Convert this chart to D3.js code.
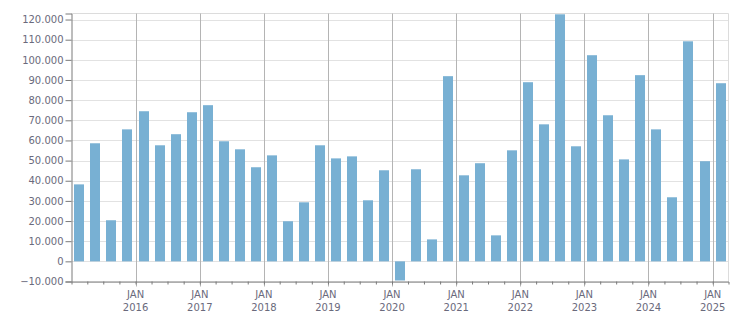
<!DOCTYPE html>
<html>
<head>
<meta charset="utf-8">
<script src="https://cdn.jsdelivr.net/npm/d3@7/dist/d3.min.js"></script>
<style>
  body { margin: 0; background: #fff; }
  text { font-family: "DejaVu Sans", Verdana, sans-serif; }
</style>
</head>
<body>
<div id="chart"></div>
<script>
// quarterly values, Q1 2015 .. Q1 2025
var quarters = [
  "2015-01", "2015-04", "2015-07", "2015-10",
  "2016-01", "2016-04", "2016-07", "2016-10",
  "2017-01", "2017-04", "2017-07", "2017-10",
  "2018-01", "2018-04", "2018-07", "2018-10",
  "2019-01", "2019-04", "2019-07", "2019-10",
  "2020-01", "2020-04", "2020-07", "2020-10",
  "2021-01", "2021-04", "2021-07", "2021-10",
  "2022-01", "2022-04", "2022-07", "2022-10",
  "2023-01", "2023-04", "2023-07", "2023-10",
  "2024-01", "2024-04", "2024-07", "2024-10",
  "2025-01"
];
var values = [
  38200, 58600, 20400, 65500,
  74500, 57600, 63100, 74000,
  77500, 59600, 55600, 46700,
  52600, 19900, 29300, 57600,
  51100, 52100, 30300, 45200,
  -9500, 45700, 10900, 91900,
  42700, 48700, 12900, 55100,
  88900, 68000, 122600, 57100,
  102300, 72500, 50600, 92400,
  65500, 31800, 109200, 49700,
  88400
];
var yTicks = [-10000, 0, 10000, 20000, 30000, 40000, 50000, 60000,
  70000, 80000, 90000, 100000, 110000, 120000];
var yearTicks = [2016, 2017, 2018, 2019, 2020, 2021, 2022, 2023, 2024, 2025];

var width = 751, height = 313;
var plotL = 71.5, plotR = 728.5, plotT = 13.5, plotB = 281.5;

var parse = d3.timeParse("%Y-%m");
var data = quarters.map(function(q, i) {
  var start = parse(q);
  return { start: start, end: d3.timeMonth.offset(start, 3), value: values[i] };
});

var x = d3.scaleTime()
  .domain([data[0].start, data[data.length - 1].end])
  .range([plotL, plotR]);
var y = d3.scaleLinear()
  .domain([-10000, 123000])
  .range([plotB, plotT]);

var locale = d3.formatLocale({ decimal: ",", thousands: ".", grouping: [3], currency: ["", ""] });
var fmt = locale.format(",.0f");

var svg = d3.select("#chart").append("svg")
  .attr("width", width)
  .attr("height", height);

// horizontal grid
svg.append("g")
  .selectAll("line")
  .data(yTicks)
  .join("line")
  .attr("x1", plotL).attr("x2", plotR)
  .attr("y1", function(d) { return Math.round(y(d)) + 0.5; })
  .attr("y2", function(d) { return Math.round(y(d)) + 0.5; })
  .attr("stroke", "#e2e2e2");

// frame top / right
svg.append("line")
  .attr("x1", plotL).attr("x2", plotR).attr("y1", plotT).attr("y2", plotT)
  .attr("stroke", "#dcdcdc");
svg.append("line")
  .attr("x1", plotR).attr("x2", plotR).attr("y1", plotT).attr("y2", plotB)
  .attr("stroke", "#dcdcdc");

// january lines
var yearDates = yearTicks.map(function(yr) { return new Date(yr, 0, 1); });
svg.append("g")
  .selectAll("line")
  .data(yearDates)
  .join("line")
  .attr("x1", function(d) { return Math.round(x(d)) + 0.5; })
  .attr("x2", function(d) { return Math.round(x(d)) + 0.5; })
  .attr("y1", plotT).attr("y2", plotB + 5)
  .attr("stroke", "#b4b4b4");

// bars
var barW = 10;
svg.append("g")
  .selectAll("rect")
  .data(data)
  .join("rect")
  .attr("x", function(d) { return Math.round((x(d.start) + x(d.end)) / 2 - barW / 2); })
  .attr("width", barW)
  .attr("y", function(d) { return y(Math.max(0, d.value)); })
  .attr("height", function(d) { return Math.abs(y(d.value) - y(0)); })
  .attr("fill", "#78b0d3");

// y axis
var yAxis = svg.append("g")
  .attr("transform", "translate(" + plotL + ",0)")
  .call(d3.axisLeft(y).tickValues(yTicks).tickFormat(fmt).tickSize(6).tickPadding(2));
yAxis.select(".domain").attr("stroke", "#7a7a7a");
yAxis.selectAll(".tick line").attr("stroke", "#7a7a7a");
yAxis.selectAll("text")
  .attr("fill", "#6a6a7c")
  .style("font-size", "10px");

// x axis (quarter ticks)
var qDates = data.map(function(d) { return d.start; }).slice(1);
var xAxis = svg.append("g")
  .attr("transform", "translate(0," + plotB + ")")
  .call(d3.axisBottom(x).tickValues(qDates).tickSize(3).tickFormat(""));
xAxis.select(".domain").attr("stroke", "#7a7a7a");
xAxis.selectAll(".tick line").attr("stroke", "#7a7a7a");

var labels = svg.append("g")
  .selectAll("g")
  .data(yearDates)
  .join("g")
  .attr("transform", function(d) { return "translate(" + x(d) + ",0)"; });
labels.append("text")
  .attr("y", 298)
  .attr("text-anchor", "middle")
  .attr("fill", "#6a6a7c")
  .style("font-size", "10px")
  .text("JAN");
labels.append("text")
  .attr("y", 311)
  .attr("text-anchor", "middle")
  .attr("fill", "#6a6a7c")
  .style("font-size", "10px")
  .text(function(d) { return d.getFullYear(); });
</script>
</body>
</html>
